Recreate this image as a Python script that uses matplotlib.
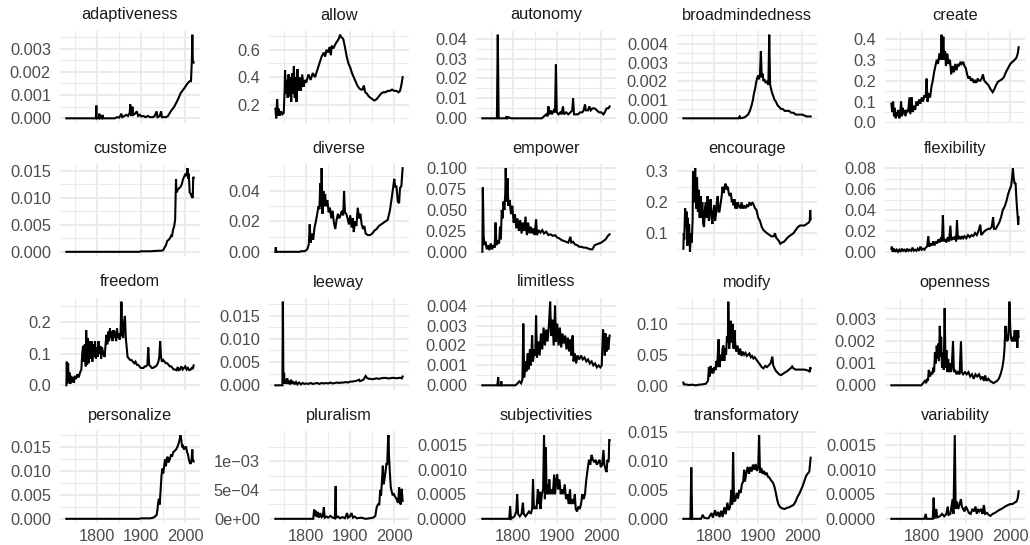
import numpy as np
import matplotlib
matplotlib.use("Agg")
import matplotlib.pyplot as plt

plt.rcParams['font.family'] = ['Liberation Sans', 'DejaVu Sans']

# (year, relative frequency)
adaptiveness = [(1730, 0), (1797, 0), (1798, 0.00055), (1799, 0), (1804, 0), (1805, 0.0002), (1806, 0),
                (1811, 0), (1812, 0.00015), (1813, 0), (1840, 0), (1845, 0.00005), (1850, 0.00003),
                (1855, 0.0002), (1857, 0.00005), (1862, 0.0001), (1866, 0.00015), (1870, 0.0001),
                (1874, 0.00025), (1875, 0.0006), (1877, 0.0001), (1880, 0.0005), (1882, 0.00015),
                (1886, 0.0002), (1890, 0.0003), (1893, 0.0001), (1897, 0.00015), (1900, 0.00008),
                (1905, 0.0001), (1910, 0.00005), (1915, 0.0001), (1920, 0.00005), (1925, 0.00005),
                (1930, 0.00008), (1935, 0.0003), (1937, 0.00005), (1942, 0.0001), (1945, 0.0003),
                (1947, 0.00005), (1955, 0.00005), (1960, 0.00008), (1967, 0.0003), (1975, 0.0005),
                (1983, 0.0008), (1990, 0.0011), (1998, 0.0013), (2005, 0.0015), (2010, 0.0016),
                (2013, 0.0016), (2015, 0.0025), (2016, 0.0036), (2017, 0.0025), (2019, 0.0024)]

allow = [(1730, 0.17), (1732, 0.10), (1734, 0.24), (1736, 0.12), (1738, 0.17), (1740, 0.12), (1743, 0.15),
         (1746, 0.13), (1749, 0.14), (1751, 0.30), (1752, 0.45), (1754, 0.28), (1756, 0.38), (1758, 0.25),
         (1760, 0.42), (1762, 0.26), (1764, 0.40), (1766, 0.22), (1768, 0.43), (1770, 0.28), (1772, 0.48),
         (1774, 0.25), (1776, 0.40), (1778, 0.22), (1780, 0.46), (1782, 0.30), (1785, 0.40), (1788, 0.30),
         (1791, 0.42), (1794, 0.33), (1797, 0.38), (1800, 0.36), (1805, 0.42), (1810, 0.38), (1815, 0.43),
         (1820, 0.40), (1825, 0.45), (1830, 0.50), (1835, 0.55), (1840, 0.58), (1843, 0.55), (1846, 0.60),
         (1850, 0.58), (1853, 0.62), (1856, 0.56), (1858, 0.63), (1862, 0.61), (1866, 0.64), (1870, 0.66),
         (1874, 0.68), (1877, 0.71), (1880, 0.69), (1884, 0.68), (1888, 0.62), (1892, 0.55), (1896, 0.50),
         (1900, 0.47), (1904, 0.43), (1908, 0.40), (1912, 0.37), (1916, 0.34), (1920, 0.32), (1924, 0.31),
         (1928, 0.31), (1931, 0.34), (1934, 0.29), (1938, 0.28), (1942, 0.26), (1946, 0.25), (1950, 0.24),
         (1955, 0.23), (1960, 0.24), (1965, 0.26), (1970, 0.28), (1975, 0.29), (1980, 0.29), (1985, 0.30),
         (1990, 0.30), (1995, 0.31), (2000, 0.30), (2005, 0.30), (2010, 0.29), (2013, 0.30), (2016, 0.34),
         (2019, 0.40)]

autonomy = [(1730, 0), (1763, 0), (1765, 0.042), (1767, 0), (1783, 0), (1785, 0.001), (1787, 0),
            (1790, 0.0005), (1795, 0), (1865, 0), (1870, 0.001), (1875, 0.002), (1878, 0.001),
            (1880, 0.006), (1882, 0.002), (1885, 0.004), (1888, 0.002), (1892, 0.004), (1895, 0.003),
            (1897, 0.027), (1899, 0.003), (1903, 0.002), (1907, 0.003), (1910, 0.002), (1913, 0.006),
            (1915, 0.002), (1920, 0.003), (1925, 0.002), (1930, 0.003), (1934, 0.004), (1936, 0.010),
            (1938, 0.002), (1942, 0.002), (1947, 0.002), (1952, 0.003), (1957, 0.003), (1960, 0.004),
            (1963, 0.007), (1965, 0.004), (1970, 0.004), (1973, 0.006), (1976, 0.004), (1980, 0.005),
            (1985, 0.005), (1990, 0.004), (1995, 0.003), (2000, 0.003), (2005, 0.002), (2008, 0.003),
            (2012, 0.005), (2016, 0.005), (2019, 0.006)]

broadmindedness = [(1730, 0), (1855, 0), (1858, 0.0001), (1860, 0), (1869, 0.00005), (1877, 0.0002),
                   (1881, 0.0004), (1885, 0.0007), (1888, 0.001), (1890, 0.0013), (1893, 0.0016),
                   (1895, 0.0019), (1898, 0.0022), (1900, 0.0023), (1902, 0.0021), (1904, 0.0024),
                   (1906, 0.0036), (1908, 0.0022), (1910, 0.0024), (1912, 0.0020), (1914, 0.0021),
                   (1917, 0.0019), (1920, 0.0020), (1923, 0.0018), (1925, 0.0045), (1927, 0.0018),
                   (1929, 0.0016), (1931, 0.0014), (1934, 0.0012), (1937, 0.0010), (1940, 0.0009),
                   (1944, 0.0007), (1948, 0.0006), (1952, 0.0005), (1956, 0.0005), (1960, 0.0004),
                   (1965, 0.0004), (1970, 0.0004), (1975, 0.0003), (1980, 0.0003), (1985, 0.0002),
                   (1990, 0.0002), (1995, 0.0002), (2000, 0.0002), (2005, 0.00015), (2010, 0.0001),
                   (2015, 0.0001), (2019, 0.0001)]

create = [(1730, 0.09), (1732, 0.05), (1734, 0.10), (1736, 0.03), (1738, 0.07), (1740, 0.02), (1742, 0.05),
          (1744, 0.03), (1746, 0.06), (1748, 0.02), (1750, 0.04), (1752, 0.10), (1754, 0.03), (1756, 0.07),
          (1758, 0.04), (1760, 0.06), (1762, 0.03), (1765, 0.06), (1768, 0.05), (1771, 0.12), (1773, 0.04),
          (1776, 0.12), (1778, 0.05), (1781, 0.08), (1784, 0.06), (1787, 0.10), (1790, 0.08), (1793, 0.11),
          (1796, 0.09), (1799, 0.12), (1802, 0.10), (1805, 0.13), (1808, 0.12), (1810, 0.21), (1812, 0.10),
          (1815, 0.14), (1818, 0.12), (1821, 0.17), (1824, 0.20), (1827, 0.24), (1830, 0.27), (1833, 0.30),
          (1836, 0.28), (1839, 0.33), (1842, 0.30), (1844, 0.42), (1846, 0.30), (1848, 0.41), (1850, 0.30),
          (1852, 0.34), (1854, 0.27), (1857, 0.33), (1860, 0.28), (1863, 0.30), (1866, 0.23), (1869, 0.27),
          (1872, 0.24), (1875, 0.28), (1878, 0.25), (1881, 0.28), (1884, 0.27), (1887, 0.29), (1890, 0.28),
          (1893, 0.29), (1896, 0.27), (1899, 0.26), (1902, 0.23), (1905, 0.21), (1908, 0.22), (1911, 0.20),
          (1914, 0.21), (1917, 0.19), (1920, 0.20), (1923, 0.19), (1926, 0.21), (1929, 0.20), (1932, 0.20),
          (1935, 0.21), (1938, 0.23), (1941, 0.20), (1945, 0.19), (1950, 0.18), (1955, 0.16), (1960, 0.145),
          (1964, 0.16), (1968, 0.18), (1972, 0.195), (1976, 0.20), (1980, 0.205), (1985, 0.215), (1990, 0.24),
          (1995, 0.26), (2000, 0.28), (2005, 0.29), (2010, 0.30), (2014, 0.31), (2017, 0.33), (2019, 0.36)]

customize = [(1730, 0), (1895, 0), (1900, 0.0001), (1920, 0.0001), (1940, 0.0002), (1945, 0.0002),
             (1950, 0.0003), (1953, 0.0008), (1956, 0.0012), (1959, 0.002), (1962, 0.0022), (1965, 0.0025),
             (1968, 0.003), (1970, 0.0028), (1972, 0.004), (1975, 0.0048), (1977, 0.006), (1979, 0.0135),
             (1980, 0.011), (1983, 0.0115), (1986, 0.0118), (1989, 0.012), (1992, 0.0125), (1995, 0.0135),
             (1998, 0.014), (2001, 0.0145), (2003, 0.014), (2005, 0.0155), (2007, 0.0135), (2008, 0.0145),
             (2010, 0.011), (2012, 0.0108), (2015, 0.0102), (2017, 0.0100), (2018, 0.0139), (2019, 0.0137)]

diverse = [(1730, 0), (1731, 0.003), (1732, 0), (1785, 0), (1790, 0.0005), (1795, 0.0003), (1800, 0.001),
           (1803, 0.002), (1806, 0.005), (1808, 0.018), (1810, 0.006), (1813, 0.012), (1816, 0.008),
           (1819, 0.016), (1822, 0.02), (1825, 0.025), (1828, 0.03), (1830, 0.028), (1832, 0.045),
           (1834, 0.03), (1835, 0.055), (1837, 0.025), (1839, 0.04), (1841, 0.03), (1843, 0.038),
           (1845, 0.03), (1848, 0.034), (1851, 0.026), (1854, 0.029), (1857, 0.022), (1860, 0.027),
           (1863, 0.019), (1866, 0.015), (1869, 0.021), (1872, 0.025), (1875, 0.022), (1878, 0.024),
           (1881, 0.027), (1884, 0.024), (1886, 0.040), (1888, 0.026), (1891, 0.025), (1894, 0.022),
           (1897, 0.018), (1900, 0.024), (1903, 0.016), (1906, 0.022), (1908, 0.013), (1911, 0.02),
           (1914, 0.017), (1917, 0.029), (1920, 0.022), (1923, 0.025), (1926, 0.018), (1929, 0.015),
           (1932, 0.017), (1935, 0.012), (1940, 0.011), (1945, 0.011), (1950, 0.012), (1955, 0.014),
           (1960, 0.015), (1965, 0.017), (1970, 0.018), (1975, 0.019), (1980, 0.02), (1985, 0.021),
           (1990, 0.027), (1995, 0.037), (2000, 0.048), (2002, 0.043), (2005, 0.043), (2008, 0.033),
           (2011, 0.032), (2013, 0.042), (2016, 0.043), (2019, 0.055)]

empower = [(1730, 0), (1731, 0.077), (1733, 0.018), (1735, 0.008), (1737, 0.012), (1740, 0.003),
           (1743, 0.008), (1746, 0.002), (1749, 0.01), (1752, 0.003), (1755, 0.008), (1758, 0.005),
           (1760, 0.035), (1762, 0.008), (1765, 0.012), (1768, 0.01), (1770, 0.03), (1772, 0.015),
           (1774, 0.05), (1776, 0.04), (1778, 0.06), (1780, 0.05), (1782, 0.07), (1783, 0.1), (1785, 0.06),
           (1787, 0.088), (1789, 0.055), (1792, 0.062), (1795, 0.045), (1798, 0.055), (1801, 0.035),
           (1804, 0.045), (1807, 0.028), (1810, 0.04), (1813, 0.025), (1816, 0.038), (1819, 0.022),
           (1822, 0.035), (1825, 0.025), (1828, 0.042), (1831, 0.02), (1834, 0.035), (1837, 0.022),
           (1840, 0.03), (1843, 0.022), (1846, 0.028), (1849, 0.02), (1852, 0.039), (1854, 0.02),
           (1858, 0.026), (1862, 0.023), (1866, 0.026), (1870, 0.022), (1875, 0.024), (1880, 0.02),
           (1885, 0.021), (1890, 0.019), (1895, 0.02), (1900, 0.017), (1905, 0.016), (1910, 0.014),
           (1915, 0.013), (1920, 0.012), (1925, 0.011), (1930, 0.018), (1932, 0.011), (1936, 0.012),
           (1940, 0.009), (1945, 0.008), (1950, 0.006), (1955, 0.006), (1960, 0.005), (1965, 0.005),
           (1970, 0.004), (1975, 0.003), (1980, 0.003), (1985, 0.008), (1990, 0.009), (1995, 0.01),
           (2000, 0.011), (2005, 0.013), (2010, 0.015), (2015, 0.019), (2019, 0.021)]

encourage = [(1730, 0.05), (1731, 0.10), (1732, 0.08), (1734, 0.18), (1736, 0.12), (1737, 0.17), (1739, 0.06),
             (1740, 0.15), (1742, 0.08), (1743, 0.13), (1745, 0.04), (1747, 0.10), (1749, 0.07), (1751, 0.14),
             (1752, 0.30), (1754, 0.20), (1756, 0.29), (1757, 0.31), (1759, 0.18), (1761, 0.28), (1763, 0.17),
             (1765, 0.24), (1767, 0.15), (1769, 0.22), (1771, 0.15), (1773, 0.20), (1775, 0.13), (1777, 0.12),
             (1779, 0.18), (1781, 0.20), (1783, 0.15), (1785, 0.22), (1787, 0.16), (1788, 0.14), (1790, 0.19),
             (1792, 0.21), (1794, 0.15), (1796, 0.13), (1798, 0.17), (1800, 0.19), (1802, 0.14), (1804, 0.16),
             (1806, 0.20), (1808, 0.22), (1810, 0.17), (1812, 0.17), (1815, 0.20), (1817, 0.22), (1819, 0.25),
             (1821, 0.23), (1823, 0.24), (1825, 0.26), (1827, 0.255), (1829, 0.24), (1831, 0.25), (1833, 0.23),
             (1835, 0.22), (1838, 0.23), (1840, 0.20), (1842, 0.21), (1844, 0.19), (1846, 0.21), (1848, 0.18),
             (1850, 0.20), (1852, 0.18), (1854, 0.20), (1856, 0.185), (1858, 0.19), (1860, 0.18), (1862, 0.20),
             (1865, 0.18), (1868, 0.19), (1871, 0.18), (1874, 0.19), (1877, 0.185), (1880, 0.20), (1883, 0.19),
             (1887, 0.20), (1890, 0.19), (1893, 0.18), (1896, 0.175), (1900, 0.15), (1904, 0.14), (1908, 0.12),
             (1912, 0.11), (1916, 0.105), (1920, 0.10), (1925, 0.095), (1930, 0.09), (1935, 0.09), (1938, 0.10),
             (1941, 0.085), (1944, 0.08), (1947, 0.075), (1950, 0.066), (1954, 0.07), (1958, 0.072),
             (1962, 0.078), (1966, 0.085), (1970, 0.09), (1975, 0.095), (1980, 0.10), (1985, 0.11), (1990, 0.12),
             (1995, 0.125), (2000, 0.125), (2005, 0.125), (2010, 0.13), (2015, 0.135), (2017, 0.14),
             (2018, 0.175), (2019, 0.145)]

flexibility = [(1730, 0.003), (1731, 0.005), (1733, 0.0), (1736, 0.003), (1739, 0.0), (1742, 0.002), (1745, 0.0),
               (1748, 0.002), (1751, 0.0), (1754, 0.003), (1757, 0.001), (1760, 0.002), (1763, 0.0),
               (1766, 0.003), (1769, 0.001), (1772, 0.002), (1775, 0.001), (1778, 0.004), (1781, 0.001),
               (1784, 0.002), (1787, 0.001), (1790, 0.003), (1793, 0.001), (1796, 0.005), (1799, 0.002),
               (1802, 0.003), (1805, 0.002), (1808, 0.004), (1811, 0.005), (1814, 0.015), (1816, 0.005),
               (1819, 0.008), (1822, 0.006), (1825, 0.01), (1828, 0.006), (1831, 0.01), (1834, 0.008),
               (1837, 0.012), (1840, 0.009), (1843, 0.014), (1845, 0.01), (1847, 0.035), (1849, 0.01),
               (1852, 0.012), (1855, 0.009), (1858, 0.014), (1861, 0.01), (1864, 0.025), (1866, 0.011),
               (1869, 0.014), (1872, 0.012), (1875, 0.015), (1877, 0.01), (1879, 0.03), (1881, 0.012),
               (1884, 0.015), (1887, 0.012), (1890, 0.015), (1893, 0.013), (1896, 0.015), (1900, 0.013),
               (1904, 0.016), (1908, 0.014), (1912, 0.016), (1916, 0.015), (1920, 0.018), (1924, 0.016),
               (1928, 0.02), (1932, 0.026), (1934, 0.016), (1938, 0.018), (1942, 0.02), (1946, 0.021),
               (1950, 0.022), (1954, 0.022), (1958, 0.024), (1961, 0.033), (1963, 0.022), (1967, 0.022),
               (1971, 0.025), (1975, 0.028), (1979, 0.033), (1983, 0.04), (1987, 0.043), (1991, 0.048),
               (1995, 0.055), (1999, 0.06), (2002, 0.063), (2004, 0.07), (2006, 0.08), (2008, 0.07),
               (2010, 0.065), (2012, 0.066), (2014, 0.05), (2016, 0.038), (2017, 0.033), (2018, 0.026),
               (2019, 0.033)]

freedom = [(1730, 0.0), (1731, 0.075), (1732, 0.005), (1734, 0.07), (1735, 0.01), (1737, 0.04), (1739, 0.005),
           (1741, 0.03), (1743, 0.01), (1745, 0.025), (1747, 0.008), (1749, 0.03), (1752, 0.02), (1755, 0.035),
           (1758, 0.025), (1761, 0.04), (1764, 0.05), (1766, 0.10), (1768, 0.125), (1770, 0.075), (1772, 0.13),
           (1774, 0.06), (1775, 0.175), (1777, 0.065), (1779, 0.15), (1781, 0.07), (1783, 0.14), (1785, 0.085),
           (1787, 0.14), (1789, 0.075), (1791, 0.13), (1793, 0.09), (1795, 0.14), (1797, 0.085), (1799, 0.12),
           (1801, 0.09), (1803, 0.14), (1805, 0.1), (1807, 0.125), (1809, 0.085), (1811, 0.12), (1814, 0.1),
           (1817, 0.09), (1819, 0.13), (1821, 0.16), (1823, 0.13), (1825, 0.17), (1827, 0.14), (1829, 0.18),
           (1831, 0.15), (1833, 0.17), (1835, 0.14), (1837, 0.175), (1839, 0.15), (1841, 0.17), (1843, 0.14),
           (1845, 0.18), (1847, 0.15), (1849, 0.165), (1851, 0.145), (1853, 0.16), (1855, 0.265), (1857, 0.16),
           (1859, 0.15), (1861, 0.2), (1863, 0.22), (1865, 0.15), (1867, 0.12), (1869, 0.09), (1872, 0.085),
           (1875, 0.08), (1878, 0.08), (1881, 0.075), (1884, 0.07), (1887, 0.075), (1890, 0.065), (1893, 0.065),
           (1896, 0.06), (1899, 0.055), (1902, 0.055), (1905, 0.055), (1908, 0.06), (1911, 0.06), (1914, 0.065),
           (1916, 0.12), (1918, 0.065), (1921, 0.06), (1924, 0.055), (1927, 0.055), (1930, 0.058), (1933, 0.06),
           (1936, 0.065), (1939, 0.075), (1941, 0.09), (1943, 0.14), (1945, 0.09), (1947, 0.075), (1950, 0.08),
           (1953, 0.075), (1956, 0.07), (1959, 0.07), (1962, 0.065), (1965, 0.06), (1968, 0.06), (1971, 0.055),
           (1974, 0.05), (1977, 0.05), (1980, 0.048), (1983, 0.058), (1985, 0.048), (1988, 0.05), (1991, 0.06),
           (1994, 0.05), (1997, 0.055), (2000, 0.06), (2003, 0.05), (2006, 0.055), (2009, 0.048), (2012, 0.05),
           (2015, 0.055), (2017, 0.052), (2019, 0.063)]

leeway = [(1730, 0), (1746, 0), (1747, 0.018), (1748, 0.0025), (1750, 0.0025), (1751, 0.0003), (1753, 0.0012),
          (1755, 0.0003), (1757, 0.0015), (1759, 0.0003), (1761, 0.001), (1763, 0.0002), (1766, 0.0012),
          (1768, 0.0003), (1771, 0.0008), (1774, 0.0002), (1777, 0.0007), (1780, 0.0002), (1784, 0.0006),
          (1788, 0.0002), (1792, 0.0005), (1796, 0.0003), (1800, 0.0004), (1805, 0.0003), (1810, 0.0005),
          (1815, 0.0003), (1820, 0.0004), (1825, 0.0005), (1830, 0.0003), (1835, 0.0005), (1840, 0.0004),
          (1845, 0.0005), (1850, 0.0004), (1855, 0.0006), (1860, 0.0004), (1865, 0.0005), (1870, 0.0006),
          (1875, 0.0005), (1880, 0.0006), (1885, 0.0006), (1890, 0.0007), (1895, 0.0006), (1900, 0.0008),
          (1905, 0.0008), (1910, 0.0009), (1915, 0.001), (1920, 0.0012), (1922, 0.0009), (1925, 0.001),
          (1930, 0.0012), (1935, 0.002), (1938, 0.0016), (1942, 0.0014), (1946, 0.0014), (1950, 0.0013),
          (1955, 0.0014), (1960, 0.0015), (1965, 0.0014), (1970, 0.0015), (1975, 0.0016), (1980, 0.0016),
          (1985, 0.0015), (1990, 0.0015), (1995, 0.0016), (2000, 0.0016), (2005, 0.0015), (2010, 0.0016),
          (2015, 0.0016), (2017, 0.0015), (2019, 0.0019)]

limitless = [(1730, 0), (1764, 0), (1766, 0.0004), (1767, 0), (1772, 0), (1773, 0.0002), (1774, 0), (1805, 0),
             (1810, 0.0001), (1814, 0.0002), (1818, 0.0001), (1821, 0.0003), (1823, 0.0031), (1825, 0.0004),
             (1828, 0.0012), (1830, 0.0007), (1833, 0.0016), (1835, 0.0008), (1838, 0.0018), (1840, 0.001),
             (1843, 0.0025), (1845, 0.0012), (1848, 0.0018), (1850, 0.0015), (1852, 0.0035), (1854, 0.0014),
             (1857, 0.0022), (1860, 0.0015), (1863, 0.0026), (1866, 0.0018), (1869, 0.0029), (1872, 0.002),
             (1875, 0.0028), (1878, 0.0022), (1881, 0.003), (1884, 0.0042), (1886, 0.0025), (1889, 0.0033),
             (1892, 0.002), (1895, 0.004), (1897, 0.0022), (1900, 0.0031), (1903, 0.002), (1906, 0.0029),
             (1909, 0.0019), (1912, 0.0026), (1915, 0.0021), (1918, 0.0025), (1921, 0.0018), (1924, 0.0024),
             (1927, 0.0017), (1930, 0.0023), (1932, 0.0015), (1935, 0.0025), (1937, 0.0012), (1940, 0.0016),
             (1943, 0.0011), (1946, 0.0015), (1950, 0.0013), (1954, 0.0015), (1958, 0.0013), (1962, 0.0014),
             (1966, 0.0012), (1970, 0.0013), (1974, 0.0011), (1978, 0.0012), (1982, 0.001), (1986, 0.0011),
             (1990, 0.0009), (1994, 0.001), (1998, 0.0009), (2001, 0.001), (2004, 0.0028), (2006, 0.0024),
             (2008, 0.0015), (2010, 0.0026), (2012, 0.0017), (2014, 0.0024), (2016, 0.0018), (2018, 0.0023),
             (2019, 0.0025)]

modify = [(1730, 0.005), (1731, 0.002), (1735, 0.002), (1742, 0.001), (1750, 0.0015), (1758, 0.0005),
          (1765, 0.0015), (1773, 0.002), (1781, 0.003), (1786, 0.008), (1788, 0.03), (1790, 0.015),
          (1792, 0.032), (1794, 0.02), (1796, 0.028), (1798, 0.02), (1800, 0.03), (1803, 0.025), (1805, 0.04),
          (1807, 0.03), (1809, 0.065), (1810, 0.075), (1812, 0.03), (1815, 0.05), (1817, 0.04), (1819, 0.06),
          (1821, 0.065), (1823, 0.04), (1825, 0.06), (1827, 0.05), (1829, 0.08), (1831, 0.07), (1832, 0.136),
          (1834, 0.06), (1836, 0.08), (1838, 0.105), (1840, 0.07), (1842, 0.1), (1844, 0.06), (1846, 0.09),
          (1848, 0.065), (1850, 0.055), (1853, 0.065), (1856, 0.05), (1859, 0.06), (1862, 0.048), (1865, 0.055),
          (1868, 0.05), (1871, 0.053), (1874, 0.048), (1877, 0.05), (1880, 0.052), (1883, 0.046), (1886, 0.048),
          (1889, 0.044), (1892, 0.046), (1896, 0.042), (1900, 0.038), (1904, 0.034), (1908, 0.03),
          (1912, 0.028), (1916, 0.032), (1920, 0.03), (1924, 0.033), (1928, 0.036), (1932, 0.047),
          (1934, 0.033), (1937, 0.028), (1940, 0.024), (1944, 0.021), (1948, 0.018), (1952, 0.017),
          (1956, 0.019), (1960, 0.021), (1965, 0.023), (1970, 0.026), (1975, 0.029), (1977, 0.031),
          (1980, 0.028), (1985, 0.026), (1990, 0.026), (1995, 0.026), (2000, 0.026), (2005, 0.026),
          (2010, 0.025), (2015, 0.024), (2017, 0.022), (2018, 0.03), (2019, 0.028)]

openness = [(1730, 0), (1798, 0), (1802, 0.0001), (1806, 0.0002), (1809, 0.0001), (1811, 0.0003), (1813, 0.0002),
            (1815, 0.0007), (1818, 0.0004), (1821, 0.0006), (1823, 0.0005), (1825, 0.0008), (1827, 0.0006),
            (1829, 0.0015), (1831, 0.001), (1833, 0.0018), (1835, 0.0012), (1837, 0.0019), (1838, 0.0011),
            (1840, 0.0027), (1842, 0.0013), (1843, 0.0022), (1845, 0.0008), (1847, 0.0015), (1849, 0.0007),
            (1851, 0.0035), (1853, 0.0008), (1855, 0.0016), (1857, 0.0006), (1859, 0.0012), (1861, 0.0006),
            (1863, 0.0010), (1865, 0.0006), (1867, 0.0008), (1870, 0.002), (1872, 0.0006), (1875, 0.0007),
            (1878, 0.0005), (1881, 0.0006), (1885, 0.0005), (1888, 0.002), (1890, 0.0006), (1893, 0.0005),
            (1897, 0.0006), (1901, 0.0005), (1905, 0.0006), (1909, 0.0004), (1913, 0.0005), (1917, 0.0003),
            (1921, 0.0005), (1925, 0.0004), (1929, 0.0005), (1933, 0.0003), (1937, 0.0004), (1940, 0.0002),
            (1943, 0.00045), (1946, 0.0002), (1950, 0.0003), (1954, 0.0002), (1958, 0.00015), (1962, 0.0001),
            (1966, 0.00015), (1970, 0.0002), (1974, 0.0003), (1978, 0.0005), (1982, 0.0008), (1985, 0.0012),
            (1987, 0.0017), (1989, 0.0027), (1991, 0.0022), (1993, 0.0020), (1995, 0.0021), (1997, 0.0028),
            (1998, 0.0038), (2000, 0.0026), (2002, 0.0021), (2004, 0.0020), (2006, 0.0022), (2008, 0.0020),
            (2010, 0.0025), (2012, 0.0020), (2014, 0.0025), (2016, 0.0017), (2018, 0.0025), (2019, 0.0022)]

personalize = [(1730, 0), (1895, 0), (1900, 0.0001), (1920, 0.0001), (1926, 0.0002), (1930, 0.0004),
               (1935, 0.0008), (1937, 0.002), (1938, 0.003), (1940, 0.0042), (1942, 0.003), (1944, 0.006),
               (1946, 0.009), (1948, 0.0105), (1950, 0.0095), (1952, 0.011), (1954, 0.0125), (1956, 0.011),
               (1958, 0.0125), (1960, 0.013), (1962, 0.0118), (1965, 0.0125), (1968, 0.0135), (1970, 0.013),
               (1973, 0.014), (1976, 0.0142), (1979, 0.0145), (1982, 0.015), (1985, 0.0158), (1987, 0.0165),
               (1989, 0.0175), (1991, 0.0165), (1993, 0.015), (1995, 0.0152), (1997, 0.0145), (2000, 0.015),
               (2002, 0.015), (2004, 0.014), (2006, 0.0135), (2008, 0.0125), (2010, 0.0118), (2012, 0.0115),
               (2014, 0.012), (2016, 0.0145), (2017, 0.0125), (2019, 0.012)]

pluralism = [(1730, 0), (1816, 0), (1818, 0.00016), (1820, 0.00005), (1822, 0.00014), (1824, 0.00003),
             (1826, 0.00012), (1829, 0.00002), (1832, 0.0001), (1835, 0.00003), (1838, 0.00005), (1840, 0.0002),
             (1842, 0.00002), (1846, 0.00004), (1850, 0.00002), (1855, 0.00005), (1860, 0.00002),
             (1865, 0.00001), (1867, 0.00057), (1868, 0.00002), (1872, 0.00004), (1877, 0.00001),
             (1882, 0.00003), (1888, 0.00001), (1893, 0.0001), (1895, 0.00002), (1899, 0.00004), (1903, 0.0001),
             (1906, 0.00002), (1910, 0.00004), (1915, 0.00001), (1925, 0.00002), (1935, 0.0), (1945, 0.00001),
             (1952, 0.00002), (1957, 0.00005), (1960, 0.0002), (1963, 0.00025), (1966, 0.00025), (1968, 0.0005),
             (1970, 0.0004), (1972, 0.00065), (1974, 0.00092), (1976, 0.0006), (1978, 0.0007), (1980, 0.0008),
             (1982, 0.00095), (1984, 0.00095), (1986, 0.0014), (1987, 0.00145), (1988, 0.0011), (1990, 0.0008),
             (1992, 0.00055), (1994, 0.00048), (1996, 0.00042), (1999, 0.00043), (2002, 0.00038),
             (2005, 0.00035), (2007, 0.0003), (2009, 0.00028), (2011, 0.00055), (2013, 0.00027),
             (2015, 0.00025), (2017, 0.00052), (2019, 0.00031)]

subjectivities = [(1730, 0), (1791, 0), (1793, 0.00025), (1795, 0), (1803, 0.00005), (1807, 0.00015),
                  (1809, 0.0005), (1811, 0.0001), (1815, 0.00005), (1819, 0.0001), (1822, 0.00033), (1824, 0.0001),
                  (1828, 0.00005), (1832, 0.0001), (1836, 0.00015), (1840, 0.0001), (1843, 0.0002), (1845, 0.0008),
                  (1847, 0.0002), (1850, 0.00025), (1853, 0.0002), (1856, 0.0006), (1858, 0.0003), (1860, 0.00055),
                  (1862, 0.0002), (1865, 0.0005), (1868, 0.0006), (1870, 0.0017), (1872, 0.0004), (1874, 0.00145),
                  (1876, 0.0005), (1878, 0.0007), (1880, 0.0005), (1882, 0.0008), (1884, 0.0005), (1887, 0.0006),
                  (1890, 0.0005), (1893, 0.0009), (1895, 0.0005), (1898, 0.0008), (1900, 0.0009), (1902, 0.0006),
                  (1905, 0.0008), (1908, 0.0005), (1911, 0.0006), (1914, 0.0005), (1917, 0.0007), (1920, 0.0004),
                  (1923, 0.0005), (1926, 0.0003), (1929, 0.0006), (1931, 0.0003), (1934, 0.0004), (1937, 0.0003),
                  (1940, 0.0005), (1942, 0.0002), (1945, 0.00015), (1948, 0.00025), (1951, 0.0002), (1954, 0.0003),
                  (1957, 0.0005), (1960, 0.0004), (1963, 0.0005), (1966, 0.0008), (1969, 0.001), (1972, 0.0012),
                  (1975, 0.0011), (1978, 0.0013), (1981, 0.0012), (1984, 0.00115), (1987, 0.0012), (1990, 0.0011),
                  (1993, 0.00115), (1996, 0.0012), (1999, 0.00105), (2002, 0.0011), (2005, 0.0014), (2007, 0.0011),
                  (2010, 0.001), (2012, 0.00095), (2014, 0.0012), (2016, 0.00115), (2017, 0.0012), (2018, 0.0016),
                  (2019, 0.0016)]

transformatory = [(1730, 0), (1746, 0), (1748, 0.0089), (1750, 0), (1770, 0), (1774, 0.0007), (1777, 0.0002),
                  (1782, 0.0001), (1787, 0.0001), (1794, 0.001), (1797, 0.0002), (1802, 0.0015), (1805, 0.0005),
                  (1809, 0.0012), (1812, 0.0003), (1816, 0.0014), (1819, 0.0003), (1823, 0.002), (1826, 0.0008),
                  (1830, 0.0028), (1833, 0.0015), (1836, 0.002), (1839, 0.005), (1841, 0.0025), (1843, 0.0115),
                  (1845, 0.003), (1848, 0.0032), (1851, 0.0045), (1854, 0.0035), (1857, 0.005), (1860, 0.0045),
                  (1863, 0.006), (1866, 0.0065), (1868, 0.0085), (1870, 0.0065), (1873, 0.008), (1876, 0.009),
                  (1879, 0.0078), (1882, 0.009), (1885, 0.0082), (1888, 0.0094), (1891, 0.0085), (1894, 0.0095),
                  (1897, 0.0083), (1900, 0.009), (1902, 0.0145), (1904, 0.008), (1907, 0.0088), (1910, 0.0078),
                  (1913, 0.0083), (1916, 0.0076), (1919, 0.008), (1922, 0.0073), (1925, 0.0072), (1928, 0.0068),
                  (1931, 0.0065), (1934, 0.0062), (1937, 0.0055), (1940, 0.0045), (1943, 0.0033), (1946, 0.0025),
                  (1950, 0.002), (1955, 0.0018), (1960, 0.0017), (1965, 0.0019), (1970, 0.002), (1975, 0.0022),
                  (1980, 0.0024), (1985, 0.003), (1989, 0.0038), (1993, 0.0043), (1997, 0.005), (2001, 0.0057),
                  (2005, 0.0066), (2009, 0.0075), (2013, 0.0079), (2016, 0.0082), (2019, 0.0106)]

variability = [(1730, 0), (1805, 0), (1808, 0.0001), (1810, 0), (1824, 0), (1826, 0.00043), (1828, 0),
               (1832, 0.0002), (1834, 0.00003), (1840, 0.00005), (1845, 0.0001), (1850, 0.00005), (1855, 0.0001),
               (1858, 0.00025), (1860, 0.00008), (1864, 0.0001), (1869, 0.0004), (1871, 0.0001), (1874, 0.0017),
               (1876, 0.0002), (1879, 0.00035), (1882, 0.0002), (1885, 0.0003), (1888, 0.0004), (1890, 0.00025),
               (1893, 0.0002), (1896, 0.00015), (1899, 0.00025), (1902, 0.0002), (1906, 0.00012), (1910, 0.0001),
               (1914, 0.0002), (1918, 0.00015), (1921, 0.00025), (1924, 0.0001), (1927, 0.0002), (1930, 0.00015),
               (1934, 0.0002), (1937, 0.0001), (1940, 0.00028), (1943, 0.0001), (1947, 0.00012), (1951, 0.00008),
               (1955, 0.00006), (1960, 0.0001), (1965, 0.00012), (1970, 0.00015), (1975, 0.00018), (1980, 0.0002),
               (1985, 0.00023), (1990, 0.00026), (1995, 0.00028), (2000, 0.0003), (2005, 0.0003), (2010, 0.00033),
               (2014, 0.00035), (2017, 0.00042), (2019, 0.00056)]

words = ["adaptiveness", "allow", "autonomy", "broadmindedness", "create",
         "customize", "diverse", "empower", "encourage", "flexibility",
         "freedom", "leeway", "limitless", "modify", "openness",
         "personalize", "pluralism", "subjectivities", "transformatory", "variability"]
series = [adaptiveness, allow, autonomy, broadmindedness, create,
          customize, diverse, empower, encourage, flexibility,
          freedom, leeway, limitless, modify, openness,
          personalize, pluralism, subjectivities, transformatory, variability]

# y breaks and their labels per panel, as printed on the chart
y_breaks = [[0, 0.001, 0.002, 0.003], [0.2, 0.4, 0.6], [0, 0.01, 0.02, 0.03, 0.04],
            [0, 0.001, 0.002, 0.003, 0.004], [0, 0.1, 0.2, 0.3, 0.4],
            [0, 0.005, 0.010, 0.015], [0, 0.02, 0.04], [0, 0.025, 0.05, 0.075, 0.1],
            [0.1, 0.2, 0.3], [0, 0.02, 0.04, 0.06, 0.08],
            [0, 0.1, 0.2], [0, 0.005, 0.010, 0.015], [0, 0.001, 0.002, 0.003, 0.004],
            [0, 0.05, 0.10], [0, 0.001, 0.002, 0.003],
            [0, 0.005, 0.010, 0.015], [0, 0.0005, 0.001], [0, 0.0005, 0.001, 0.0015],
            [0, 0.005, 0.010, 0.015], [0, 0.0005, 0.001, 0.0015]]
y_labels = [["0.000", "0.001", "0.002", "0.003"], ["0.2", "0.4", "0.6"], ["0.00", "0.01", "0.02", "0.03", "0.04"],
            ["0.000", "0.001", "0.002", "0.003", "0.004"], ["0.0", "0.1", "0.2", "0.3", "0.4"],
            ["0.000", "0.005", "0.010", "0.015"], ["0.00", "0.02", "0.04"],
            ["0.000", "0.025", "0.050", "0.075", "0.100"],
            ["0.1", "0.2", "0.3"], ["0.00", "0.02", "0.04", "0.06", "0.08"],
            ["0.0", "0.1", "0.2"], ["0.000", "0.005", "0.010", "0.015"],
            ["0.000", "0.001", "0.002", "0.003", "0.004"],
            ["0.00", "0.05", "0.10"], ["0.000", "0.001", "0.002", "0.003"],
            ["0.000", "0.005", "0.010", "0.015"], ["0e+00", "5e\u221204", "1e\u221203"],
            ["0.0000", "0.0005", "0.0010", "0.0015"],
            ["0.000", "0.005", "0.010", "0.015"], ["0.0000", "0.0005", "0.0010", "0.0015"]]
x_breaks = [1800, 1900, 2000]
x_minor = [1750, 1850, 1950]

W, H = 1030, 545
col_left = [60, 269, 476, 677, 885]
row_top = [30.5, 164, 297.5, 431]
pw, ph = 140, 92
fs = 11.8

fig = plt.figure(figsize=(W / 100, H / 100), dpi=100)

for i, (word, pts) in enumerate(zip(words, series)):
    r, c = divmod(i, 5)
    ax = fig.add_axes([col_left[c] / W, 1 - (row_top[r] + ph) / H, pw / W, ph / H])
    yrs = np.array([p[0] for p in pts], dtype=float)
    vals = np.array([p[1] for p in pts], dtype=float)
    ax.plot(yrs, vals, color="black", lw=1.5, solid_joinstyle="miter", zorder=3)

    lo, hi = ax.get_ylim()
    xlo, xhi = ax.get_xlim()
    br = y_breaks[i]
    step = br[1] - br[0]
    keep = [k for k, b in enumerate(br) if lo <= b <= hi]
    minors = [b + step / 2 for b in [br[0] - step] + br]
    minors = [m for m in minors if lo <= m <= hi]
    ax.set_yticks([br[k] for k in keep])
    ax.set_yticklabels([y_labels[i][k] for k in keep])
    ax.set_yticks(minors, minor=True)
    ax.set_xticks(x_breaks)
    ax.set_xticks(x_minor, minor=True)
    ax.set_ylim(lo, hi)
    ax.set_xlim(xlo, xhi)

    ax.grid(which="major", color="#EBEBEB", lw=1.5, zorder=0)
    ax.grid(which="minor", color="#EBEBEB", lw=0.75, zorder=0)
    ax.set_axisbelow(True)
    for s in ax.spines.values():
        s.set_visible(False)
    ax.tick_params(which="both", length=0)
    ax.tick_params(axis="y", pad=6.5, labelsize=fs, labelcolor="#4D4D4D")
    ax.tick_params(axis="x", pad=4, labelsize=fs, labelcolor="#4D4D4D", labelbottom=(r == 3))
    ax.text(0.5, 1 + 15.5 / ph, word, transform=ax.transAxes, ha="center", va="center",
            fontsize=fs, color="#1A1A1A")

fig.savefig("out.png", dpi=100, facecolor="white")
